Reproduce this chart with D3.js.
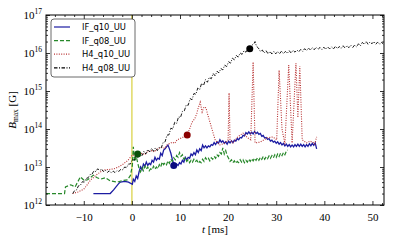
<!DOCTYPE html>
<html>
<head>
<meta charset="utf-8">
<script src="https://cdn.jsdelivr.net/npm/d3@7"></script>
<style>
  html, body { margin: 0; padding: 0; background: #fff; }
  svg { display: block; }
  .tick-label { font-family: "Liberation Serif", serif; font-size: 11px; fill: #000; }
  .legend-text { font-family: "DejaVu Sans", sans-serif; font-size: 8.4px; fill: #000; }
</style>
</head>
<body>
<div id="chart"></div>
<script>
const W = 395, H = 244;
const margin = {top: 15, right: 11, bottom: 39, left: 46};
const plotW = W - margin.left - margin.right;
const plotH = H - margin.top - margin.bottom;

// time range [ms] and B range [G]
const tRange = [-17.85, 52.4];
const bRange = [1e12, 1e17];
const xTicks = [-10, 0, 10, 20, 30, 40, 50];
const yTicks = [1e12, 1e13, 1e14, 1e15, 1e16, 1e17];

const seriesNames = ["IF_q10_UU", "IF_q08_UU", "H4_q10_UU", "H4_q08_UU"];

// [t (ms), B_max (G)]
const ifq10 = [[-8.0,2.0e12],[-4.5,2.0e12],[-3.8,2.5e12],[-2.8,3.6e12],[-2.4,4.0e12],[-1.5,4.2e12],[-0.7,4.0e12],[0.1,3.5e12],
  [0.3,4.8e12],[0.6,4.2e12],[0.9,5.8e12],[1.2,5.0e12],[1.5,7.5e12],[1.8,1.0e13],[2.1,8.5e12],[2.4,1.2e13],[2.7,1.05e13],
  [3.0,1.35e13],[3.3,1.1e13],[3.6,1.25e13],[3.9,1.15e13],[4.2,1.5e13],[4.5,1.35e13],[4.8,1.8e13],[5.1,1.5e13],[5.4,1.7e13],
  [5.7,1.6e13],[6.0,2.3e13],[6.3,2.0e13],[6.6,2.8e13],[6.9,3.0e13],[7.2,3.4e13],[7.5,3.8e13],[7.8,3.0e13],[8.1,2.3e13],
  [8.4,1.6e13],[8.7,1.2e13],[9.0,1.05e13],[9.3,1.2e13],[9.6,1.1e13],[9.9,1.3e13],[10.2,1.2e13],[10.5,1.5e13],[10.8,1.35e13],
  [11.1,1.8e13],[11.4,1.55e13],[11.7,1.8e13],[12.0,1.7e13],[12.3,2.2e13],[12.6,2.0e13],[12.9,2.4e13],[13.2,2.1e13],[13.5,2.8e13],
  [13.8,2.4e13],[14.1,3.0e13],[14.4,2.7e13],[14.7,3.8e13],[15.0,3.2e13],[15.3,3.6e13],[15.6,3.2e13],[15.9,3.6e13],[16.2,3.4e13],
  [16.5,3.9e13],[16.8,3.7e13],[17.1,4.4e13],[17.4,3.9e13],[17.7,4.6e13],[18.0,4.2e13],[18.3,5.2e13],[18.6,4.5e13],[18.9,4.9e13],
  [19.2,4.2e13],[19.5,4.6e13],[19.8,4.0e13],[20.1,4.8e13],[20.4,4.3e13],[20.7,4.9e13],[21.0,4.4e13],[21.3,5.1e13],[21.6,4.8e13],
  [21.9,5.6e13],[22.2,5.2e13],[22.5,6.0e13],[22.8,5.8e13],[23.1,6.8e13],[23.4,6.6e13],[23.7,8.0e13],[24.0,7.4e13],[24.3,8.4e13],
  [24.6,7.4e13],[24.9,8.2e13],[25.2,7.4e13],[25.5,8.6e13],[25.8,7.6e13],[26.1,8.2e13],[26.4,7.2e13],[26.7,7.6e13],[27.0,6.4e13],
  [27.3,6.8e13],[27.6,5.8e13],[27.9,6.0e13],[28.2,5.3e13],[28.5,5.6e13],[28.8,4.8e13],[29.1,5.1e13],[29.4,4.5e13],[29.7,4.8e13],
  [30.0,4.2e13],[30.3,4.6e13],[30.6,4.0e13],[30.9,4.4e13],[31.2,3.8e13],[31.5,4.2e13],[31.8,3.6e13],[32.1,4.0e13],[32.4,3.5e13],
  [32.7,3.9e13],[33.0,3.4e13],[33.3,3.8e13],[33.6,3.4e13],[33.9,3.9e13],[34.2,3.5e13],[34.5,4.0e13],[34.8,3.5e13],[35.1,4.0e13],
  [35.4,3.5e13],[35.7,3.9e13],[36.0,3.4e13],[36.3,3.9e13],[36.6,3.5e13],[36.9,4.1e13],[37.2,3.6e13],[37.5,4.2e13],[37.8,3.7e13],
  [38.1,4.3e13],[38.4,3.0e13]];

const ifq08 = [[-17.85,2.0e12],[-14.0,2.0e12],[-13.8,3.0e12],[-12.7,3.4e12],[-11.8,3.0e12],[-10.7,5.5e12],[-9.9,4.4e12],
  [-9.2,4.6e12],[-8.0,6.1e12],[-7.2,5.2e12],[-6.5,4.8e12],[-5.5,5.2e12],[-4.5,4.3e12],[-3.0,4.0e12],[-2.0,4.4e12],[-0.9,4.6e12],
  [-0.3,6.0e12],[0.1,1.1e13],[0.3,3.4e13],[0.6,1.4e13],[0.9,1.9e13],[1.2,1.3e13],[1.5,9.0e12],[1.8,7.4e12],[2.1,9.5e12],
  [2.4,8.0e12],[2.7,1.05e13],[3.0,8.8e12],[3.3,1.0e13],[3.6,8.0e12],[3.9,9.0e12],[4.2,8.4e12],[4.5,1.05e13],[4.8,8.8e12],
  [5.1,1.0e13],[5.4,9.0e12],[5.7,1.15e13],[6.0,1.0e13],[6.3,1.35e13],[6.6,1.15e13],[6.9,1.3e13],[7.2,1.15e13],[7.5,1.45e13],
  [7.8,1.25e13],[8.1,1.6e13],[8.4,1.4e13],[8.7,1.75e13],[9.0,1.55e13],[9.3,2.0e13],[9.6,1.8e13],[9.9,2.4e13],[10.2,1.9e13],
  [10.5,2.1e13],[10.8,1.6e13],[11.1,1.75e13],[11.4,1.4e13],[11.7,1.55e13],[12.0,1.3e13],[12.3,1.5e13],[12.6,1.35e13],[12.9,1.6e13],
  [13.2,1.4e13],[13.5,1.5e13],[13.8,1.25e13],[14.1,1.4e13],[14.4,1.3e13],[14.7,1.6e13],[15.0,1.4e13],[15.3,1.75e13],[15.6,1.55e13],
  [15.9,1.7e13],[16.2,1.45e13],[16.5,1.75e13],[16.8,1.6e13],[17.1,1.9e13],[17.4,1.7e13],[17.7,2.1e13],[18.0,1.9e13],[18.3,2.4e13],
  [18.6,2.2e13],[18.9,3.2e13],[19.2,2.2e13],[19.5,2.7e13],[19.8,2.0e13],[20.1,1.7e13],[20.4,1.4e13],[20.7,1.55e13],[21.0,1.3e13],
  [21.3,1.45e13],[21.6,1.25e13],[21.9,1.4e13],[22.2,1.3e13],[22.5,1.55e13],[22.8,1.35e13],[23.1,1.55e13],[23.4,1.3e13],[23.7,1.5e13],
  [24.0,1.35e13],[24.3,1.6e13],[24.6,1.4e13],[24.9,1.65e13],[25.2,1.45e13],[25.5,1.7e13],[25.8,1.5e13],[26.1,1.75e13],[26.4,1.5e13],
  [26.7,1.8e13],[27.0,1.6e13],[27.3,1.9e13],[27.6,1.6e13],[27.9,1.85e13],[28.2,1.65e13],[28.5,1.95e13],[28.8,1.7e13],[29.1,2.0e13],
  [29.4,1.75e13],[29.7,2.1e13],[30.0,1.8e13],[30.3,2.2e13],[30.6,1.9e13],[30.9,2.3e13],[31.2,2.0e13],[31.5,2.4e13],[31.8,2.1e13],
  [32.1,2.6e13],[32.4,2.8e13]];

const h4q10 = [[-12.3,2.0e12],[-11.2,2.2e12],[-10.0,2.6e12],[-9.3,3.4e12],[-8.6,4.5e12],[-7.8,5.6e12],
  [-7.1,6.6e12],[-5.9,8.4e12],[-4.8,8.6e12],[-3.8,8.9e12],[-2.8,1.0e13],[-1.8,1.2e13],[-0.8,1.5e13],[0.1,2.1e13],[0.7,1.9e13],
  [1.3,2.2e13],[2.2,2.3e13],[2.7,2.1e13],[3.2,2.5e13],[4.2,2.7e13],[4.7,2.5e13],[5.3,3.0e13],[6.3,3.3e13],[6.8,3.1e13],
  [7.3,3.8e13],[8.4,4.5e13],[8.9,4.2e13],[9.4,5.2e13],[10.5,6.0e13],[11.5,6.9e13],[12.0,1.0e14],[12.5,1.5e14],[13.1,1.9e14],
  [13.5,2.6e14],[13.8,3.6e14],[14.2,5.1e14],[14.6,2.8e14],[15.0,3.8e14],[15.4,3.6e14],[15.8,2.3e14],[16.3,1.4e14],[16.7,9.4e13],
  [17.3,5.2e13],[18.3,3.8e13],[19.4,4.3e13],[20.0,5.2e13],[20.2,8.9e14],[20.4,5.2e13],[21.0,4.3e13],[22.0,6.2e13],[23.1,7.8e13],
  [24.1,5.8e13],[24.7,5.2e13],[25.2,5.8e15],[25.6,4.3e13],[26.6,4.5e13],[28.1,5.8e13],[29.3,6.2e13],[30.1,5.2e13],[30.6,3.5e15],
  [31.2,1.0e14],[31.8,4.0e13],[32.6,4.8e15],[33.3,4.3e13],[34.1,5.4e15],[34.5,2.0e14],[34.9,4.5e15],[35.4,5.2e13],[36.3,4.3e13],
  [37.0,4.8e13],[37.6,4.5e13],[38.0,4.0e13],[38.4,6.2e13]];

const h4q08 = [[-12.3,2.0e12],[-11.9,2.4e12],[-11.5,2.5e12],[-11.1,3.2e12],[-10.7,3.3e12],[-10.3,4.1e12],[-9.9,4.0e12],
  [-9.5,5.0e12],[-9.1,5.2e12],[-8.7,6.3e12],[-8.3,6.4e12],[-7.9,7.9e12],[-7.5,7.6e12],[-7.1,9.0e12],[-6.7,8.0e12],[-6.3,8.8e12],
  [-5.9,7.6e12],[-5.5,8.2e12],[-5.1,7.2e12],[-4.7,7.9e12],[-4.3,7.0e12],[-3.9,7.8e12],[-3.5,7.1e12],[-3.1,8.0e12],[-2.7,7.6e12],
  [-2.3,8.8e12],[-1.9,8.4e12],[-1.5,1.0e13],[-1.1,9.6e12],[-0.7,1.2e13],[-0.3,1.2e13],[0.1,1.6e13],[0.5,1.5e13],[0.9,1.9e13],
  [1.3,1.8e13],[1.7,2.3e13],[2.1,2.0e13],[2.5,2.6e13],[2.9,2.2e13],[3.3,2.9e13],[3.7,2.5e13],[4.1,3.1e13],[4.5,2.6e13],
  [4.9,3.2e13],[5.3,2.7e13],[5.7,3.3e13],[6.1,3.2e13],[6.5,4.4e13],[6.9,4.6e13],[7.3,6.9e13],[7.7,7.0e13],[8.1,1.05e14],
  [8.5,1.0e14],[8.9,1.5e14],[9.3,1.4e14],[9.7,2.1e14],[10.1,2.0e14],[10.5,2.9e14],[10.9,3.0e14],[11.3,4.3e14],[11.7,4.2e14],
  [12.1,6.3e14],[12.5,5.9e14],[12.9,8.6e14],[13.3,8.2e14],[13.7,1.2e15],[14.1,1.1e15],[14.5,1.6e15],[14.9,1.4e15],[15.3,2.0e15],
  [15.7,1.7e15],[16.1,2.3e15],[16.5,2.1e15],[16.9,2.9e15],[17.3,2.5e15],[17.7,3.3e15],[18.1,3.0e15],[18.5,3.9e15],[18.9,3.6e15],
  [19.3,4.8e15],[19.7,4.4e15],[20.1,5.9e15],[20.5,5.4e15],[20.9,7.3e15],[21.3,6.6e15],[21.7,8.6e15],[22.1,7.8e15],[22.5,1.0e16],
  [22.9,9.2e15],[23.3,1.15e16],[23.7,1.05e16],[24.1,1.3e16],[24.5,1.25e16],[24.9,1.6e16],[25.3,1.7e16],[25.6,2.0e16],[25.9,1.5e16],
  [26.3,1.35e16],[26.7,1.1e16],[27.1,1.2e16],[27.5,1.0e16],[27.9,1.15e16],[28.3,9.5e15],[28.7,1.1e16],[29.1,9.4e15],[29.5,1.1e16],
  [29.9,9.5e15],[30.3,1.1e16],[30.7,9.6e15],[31.1,1.12e16],[31.5,9.6e15],[31.9,1.1e16],[32.3,9.8e15],[32.7,1.15e16],[33.1,1.0e16],
  [33.5,1.18e16],[33.9,1.05e16],[34.3,1.2e16],[34.7,1.08e16],[35.1,1.25e16],[35.5,1.1e16],[35.9,1.3e16],[36.3,1.15e16],[36.7,1.35e16],
  [37.1,1.2e16],[37.5,1.38e16],[37.9,1.22e16],[38.3,1.42e16],[38.7,1.25e16],[39.1,1.4e16],[39.5,1.22e16],[39.9,1.42e16],[40.3,1.25e16],
  [40.7,1.45e16],[41.1,1.28e16],[41.5,1.45e16],[41.9,1.28e16],[42.3,1.5e16],[42.7,1.3e16],[43.1,1.48e16],[43.5,1.32e16],[43.9,1.55e16],
  [44.3,1.35e16],[44.7,1.55e16],[45.1,1.38e16],[45.5,1.6e16],[45.9,1.4e16],[46.3,1.62e16],[46.7,1.45e16],[47.1,1.75e16],[47.5,1.55e16],
  [47.9,1.9e16],[48.3,1.7e16],[48.7,2.0e16],[49.1,1.7e16],[49.5,1.95e16],[49.9,1.75e16],[50.3,2.0e16],[50.7,1.7e16],[51.1,1.95e16],
  [51.5,1.7e16],[51.9,1.9e16],[52.4,1.65e16]];

// highlighted instants, one per run
const markerPts = [[8.7,1.1e13],[1.2,2.2e13],[11.5,6.9e13],[24.5,1.3e16]];

const lineColors = ["#1c1ca2", "#27882a", "#b83232", "#000000"];
const markerColors = ["#0a0a80", "#0a500a", "#8b0000", "#000000"];
const dashes = [null, "4,2", "1,1.4", "3.5,1.5,1,1.5"];
const widths = [1.3, 1.2, 1.1, 0.9];
const allData = [ifq10, ifq08, h4q10, h4q08];

const svg = d3.select("#chart").append("svg")
  .attr("width", W).attr("height", H);

const g = svg.append("g")
  .attr("transform", "translate(" + margin.left + "," + margin.top + ")");

const x = d3.scaleLinear().domain(tRange).range([0, plotW]);
const y = d3.scaleLog().domain(bRange).range([plotH, 0]);

g.append("clipPath").attr("id", "clip")
  .append("rect").attr("width", plotW).attr("height", plotH);

// t = 0 marker line
g.append("line")
  .attr("x1", x(0)).attr("x2", x(0))
  .attr("y1", 0).attr("y2", plotH)
  .attr("stroke", "#e2dc6e").attr("stroke-width", 1.6);

const line = d3.line()
  .x(d => x(d[0]))
  .y(d => y(d[1]));

const plot = g.append("g").attr("clip-path", "url(#clip)");
allData.forEach((d, i) => {
  plot.append("path")
    .datum(d)
    .attr("fill", "none")
    .attr("stroke", lineColors[i])
    .attr("stroke-width", widths[i])
    .attr("stroke-dasharray", dashes[i])
    .attr("d", line);
});

plot.selectAll(".marker")
  .data(markerPts)
  .enter().append("circle")
  .attr("class", "marker")
  .attr("cx", d => x(d[0]))
  .attr("cy", d => y(d[1]))
  .attr("r", 3.5)
  .attr("fill", (d, i) => markerColors[i]);

// minor ticks
const xMinor = d3.range(-16, 53, 2).filter(v => v % 10 !== 0);
const yMinor = [];
yTicks.slice(0, -1).forEach(p => { for (let k = 2; k < 10; k++) yMinor.push(p * k); });

const axX = d3.axisBottom(x).tickValues(xTicks).tickSize(-4).tickPadding(8)
  .tickFormat(d => d < 0 ? "\u2212" + Math.abs(d) : d);
const axXMinor = d3.axisBottom(x).tickValues(xMinor).tickSize(-2).tickFormat("");
const axXTop = d3.axisTop(x).tickValues(xTicks).tickSize(-4).tickFormat("");
const axXTopMinor = d3.axisTop(x).tickValues(xMinor).tickSize(-2).tickFormat("");
const axY = d3.axisLeft(y).tickValues(yTicks).tickSize(-4).tickFormat("");
const axYMinor = d3.axisLeft(y).tickValues(yMinor).tickSize(-2).tickFormat("");
const axYR = d3.axisRight(y).tickValues(yTicks).tickSize(-4).tickFormat("");
const axYRMinor = d3.axisRight(y).tickValues(yMinor).tickSize(-2).tickFormat("");

function styleAxis(sel) {
  sel.select(".domain").remove();
  sel.selectAll(".tick line").attr("stroke", "#000").attr("stroke-width", 0.8);
}

const bx = g.append("g").attr("transform", "translate(0," + plotH + ")").call(axX).call(styleAxis);
bx.selectAll(".tick text").attr("class", "tick-label").attr("font-family", null).attr("font-size", null);
g.append("g").attr("transform", "translate(0," + plotH + ")").call(axXMinor).call(styleAxis);
g.append("g").call(axXTop).call(styleAxis);
g.append("g").call(axXTopMinor).call(styleAxis);
g.append("g").call(axY).call(styleAxis);
g.append("g").call(axYMinor).call(styleAxis);
g.append("g").attr("transform", "translate(" + plotW + ",0)").call(axYR).call(styleAxis);
g.append("g").attr("transform", "translate(" + plotW + ",0)").call(axYRMinor).call(styleAxis);

// y tick labels as 10^n
const yl = g.append("g").selectAll("text")
  .data(yTicks).enter().append("text")
  .attr("class", "tick-label")
  .attr("x", -4)
  .attr("y", d => y(d) + 4)
  .attr("text-anchor", "end");
yl.append("tspan").text("10");
yl.append("tspan").attr("dy", -5).attr("font-size", "7.5px").text(d => Math.round(Math.log10(d)));

// frame
g.append("rect")
  .attr("width", plotW).attr("height", plotH)
  .attr("fill", "none").attr("stroke", "#000").attr("stroke-width", 1);

// axis labels
svg.append("text")
  .attr("class", "tick-label")
  .attr("x", margin.left + plotW / 2).attr("y", 233)
  .attr("text-anchor", "middle")
  .call(t => {
    t.append("tspan").attr("font-style", "italic").text("t");
    t.append("tspan").text(" [ms]");
  });

svg.append("text")
  .attr("class", "tick-label")
  .attr("transform", "translate(16," + (margin.top + plotH / 2) + ") rotate(-90)")
  .attr("text-anchor", "middle")
  .call(t => {
    t.append("tspan").attr("font-style", "italic").text("B");
    t.append("tspan").attr("font-size", "7.5px").attr("dy", 2).text("max");
    t.append("tspan").attr("dy", -2).text(" [G]");
  });

// legend
const leg = svg.append("g").attr("transform", "translate(51,19)");
leg.append("rect")
  .attr("width", 84).attr("height", 58).attr("rx", 3)
  .attr("fill", "#fff").attr("stroke", "#444").attr("stroke-width", 0.8);
seriesNames.forEach((name, i) => {
  const ry = 8 + i * 13.6;
  leg.append("line")
    .attr("x1", 3).attr("x2", 19).attr("y1", ry).attr("y2", ry)
    .attr("stroke", lineColors[i]).attr("stroke-width", 1.2)
    .attr("stroke-dasharray", dashes[i]);
  leg.append("text")
    .attr("class", "legend-text")
    .attr("x", 31).attr("y", ry + 3)
    .text(name);
});
</script>
</body>
</html>
